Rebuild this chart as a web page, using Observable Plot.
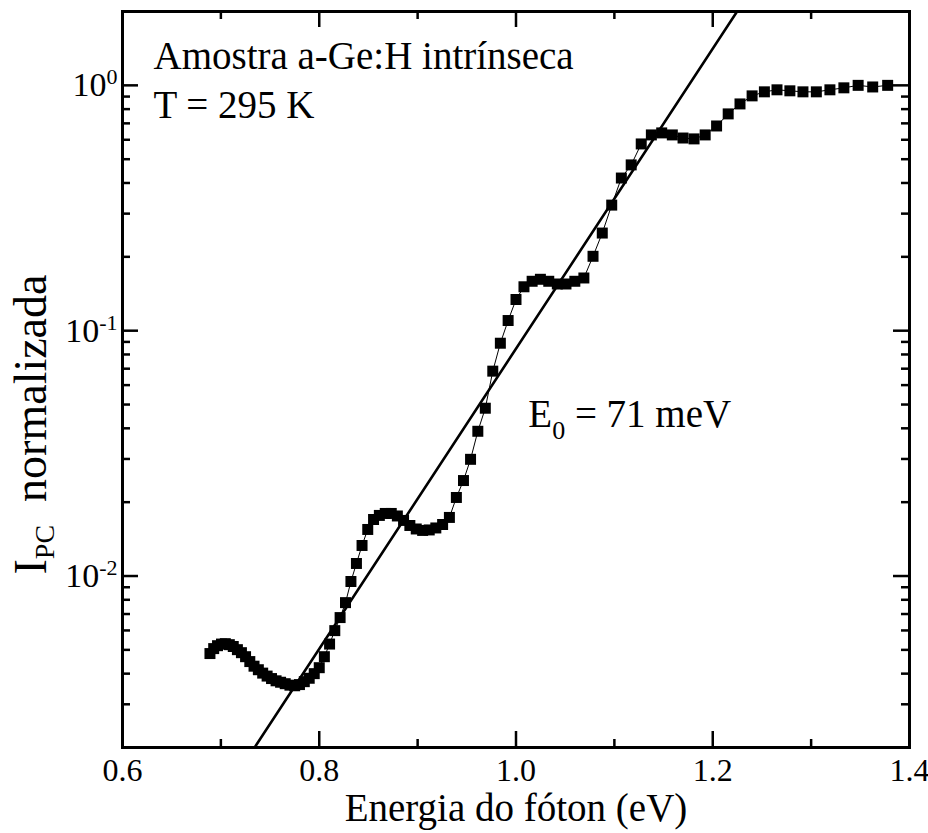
<!DOCTYPE html>
<html>
<head>
<meta charset="utf-8">
<script src="https://cdn.jsdelivr.net/npm/d3@7"></script>
<script src="https://cdn.jsdelivr.net/npm/@observablehq/plot@0.6"></script>
<style>
  body { margin: 0; background: #fff; }
</style>
</head>
<body>
<div id="chart"></div>
<script>
// Photon energy of each measured point (eV)
const energy = [0.6889, 0.6927, 0.6966, 0.7006, 0.7045, 0.7086, 0.7126, 0.7168, 0.7209, 0.7251,
  0.7294, 0.7337, 0.7381, 0.7425, 0.7470, 0.7515, 0.7561, 0.7607, 0.7654, 0.7702,
  0.7750, 0.7799, 0.7848, 0.7898, 0.7949, 0.8000, 0.8052, 0.8105, 0.8158, 0.8212,
  0.8267, 0.8322, 0.8378, 0.8435, 0.8493, 0.8552, 0.8611, 0.8671, 0.8732, 0.8794,
  0.8857, 0.8921, 0.8986, 0.9051, 0.9118, 0.9185, 0.9254, 0.9323, 0.9394, 0.9466,
  0.9538, 0.9612, 0.9688, 0.9764, 0.9841, 0.9920, 1.0000, 1.0081, 1.0164, 1.0248,
  1.0333, 1.0420, 1.0508, 1.0598, 1.0690, 1.0783, 1.0877, 1.0973, 1.1071, 1.1171,
  1.1273, 1.1376, 1.1481, 1.1589, 1.1698, 1.1810, 1.1923, 1.2039, 1.2157, 1.2277,
  1.2400, 1.2525, 1.2653, 1.2784, 1.2917, 1.3053, 1.3191, 1.3333, 1.3478, 1.3626, 1.3778];

// Normalized photocurrent at each energy
const ipc = [0.00483, 0.00506, 0.00520, 0.00528, 0.00530, 0.00525, 0.00516, 0.00501, 0.00487, 0.00469,
  0.00448, 0.00429, 0.00415, 0.00402, 0.00391, 0.00382, 0.00374, 0.00369, 0.00364, 0.00359,
  0.00357, 0.00361, 0.00371, 0.00383, 0.00400, 0.00423, 0.00469, 0.00528, 0.00599, 0.00677,
  0.00779, 0.00950, 0.01125, 0.01332, 0.01548, 0.01700, 0.01766, 0.01799, 0.01799, 0.01757,
  0.01685, 0.01607, 0.01555, 0.01534, 0.01541, 0.01570, 0.01622, 0.01733, 0.0209, 0.0245,
  0.0299, 0.0389, 0.0483, 0.0684, 0.0889, 0.110, 0.134, 0.151, 0.159, 0.162,
  0.159, 0.155, 0.155, 0.159, 0.164, 0.201, 0.250, 0.325, 0.419, 0.474,
  0.577, 0.628, 0.640, 0.628, 0.610, 0.605, 0.628, 0.683, 0.765, 0.840,
  0.906, 0.941, 0.959, 0.950, 0.941, 0.941, 0.959, 0.977, 1.00, 0.985, 1.00];

// Exponential (Urbach) edge fit: I = I1 * exp((E - 1 eV) / E0)
const urbachE0 = 0.071;          // eV
const fitAtOneEV = 0.0844;       // fitted photocurrent at E = 1 eV
const fitSpan = [0.6, 1.4];      // energies the fit line is drawn across

// Axis ticks
const xMajor = [0.6, 0.8, 1.0, 1.2, 1.4];
const xMinor = [0.7, 0.9, 1.1, 1.3];
const yMajor = [1, 0.1, 0.01];
const yExponent = ["0", "-1", "-2"];
const yMinor = [0.003, 0.004, 0.005, 0.006, 0.007, 0.008, 0.009,
  0.02, 0.03, 0.04, 0.05, 0.06, 0.07, 0.08, 0.09,
  0.2, 0.3, 0.4, 0.5, 0.6, 0.7, 0.8, 0.9];

// Labels
const sampleLabel = "Amostra a-Ge:H intrínseca";
const tempLabel = "T = 295 K";
const fitLabel = ["E", "0", " = 71 meV"];
const yTitle = ["I", "PC", "\u00a0 normalizada"];
const xTitle = "Energia do fóton (eV)";

const W = 928, H = 833;
const margin = {top: 11, right: 19, bottom: 86, left: 122};
const innerW = W - margin.left - margin.right;
const innerH = H - margin.top - margin.bottom;
const majorLen = 16, minorLen = 8, tickWidth = 2.5;
const font = "'Liberation Serif', 'Times New Roman', serif";

const points = energy.map((e, i) => ({energy: e, ipc: ipc[i]}));
const fit = fitSpan.map(e => ({energy: e, ipc: fitAtOneEV * Math.exp((e - 1) / urbachE0)}));

// inward ticks on all four sides of the frame
function frameTicksX(values, len) {
  return [
    Plot.tickX(values, {x: d => d, insetTop: innerH - len, stroke: "black", strokeWidth: tickWidth}),
    Plot.tickX(values, {x: d => d, insetBottom: innerH - len, stroke: "black", strokeWidth: tickWidth})
  ];
}
function frameTicksY(values, len) {
  return [
    Plot.tickY(values, {y: d => d, insetRight: innerW - len, stroke: "black", strokeWidth: tickWidth}),
    Plot.tickY(values, {y: d => d, insetLeft: innerW - len, stroke: "black", strokeWidth: tickWidth})
  ];
}

const chart = Plot.plot({
  width: W,
  height: H,
  marginTop: margin.top,
  marginRight: margin.right,
  marginBottom: margin.bottom,
  marginLeft: margin.left,
  style: {fontFamily: font, fontSize: "32px", background: "white", color: "black", overflow: "visible"},
  x: {domain: [0.6, 1.4]},
  y: {type: "log", domain: [0.002, 2]},
  marks: [
    Plot.line(points, {x: "energy", y: "ipc", stroke: "black", strokeWidth: 1}),
    Plot.dot(points, {x: "energy", y: "ipc", symbol: "square", r: 6.2, fill: "black", stroke: "none"}),
    Plot.line(fit, {x: "energy", y: "ipc", stroke: "black", strokeWidth: 2.6, clip: true}),
    ...frameTicksX(xMajor, majorLen),
    ...frameTicksX(xMinor, minorLen),
    ...frameTicksY(yMajor, majorLen),
    ...frameTicksY(yMinor, minorLen),
    Plot.frame({stroke: "black", strokeWidth: 3}),
    Plot.axisX({ticks: xMajor, tickSize: 0, tickPadding: 11, tickFormat: d => d.toFixed(1),
      fontSize: 32, label: null}),
    Plot.axisY({ticks: yMajor, tickSize: 0, tickPadding: 5, tickFormat: () => "10",
      fontSize: 34, label: null}),
    Plot.text([sampleLabel], {frameAnchor: "top-left", text: d => d, dx: 31, dy: 57,
      textAnchor: "start", lineAnchor: "bottom", fontSize: 39}),
    Plot.text([tempLabel], {frameAnchor: "top-left", text: d => d, dx: 31, dy: 106,
      textAnchor: "start", lineAnchor: "bottom", fontSize: 39}),
    Plot.text([fitLabel.join("")], {x: 1.0125, y: 0.0405, text: d => d,
      textAnchor: "start", lineAnchor: "bottom", fontSize: 39}),
    Plot.text([xTitle], {frameAnchor: "bottom", text: d => d, dy: 73,
      textAnchor: "middle", lineAnchor: "bottom", fontSize: 39}),
    Plot.text([yTitle.join("")], {frameAnchor: "left", text: d => d, rotate: -90, dx: -77, dy: 45,
      textAnchor: "middle", lineAnchor: "bottom", fontSize: 46})
  ]
});

document.getElementById("chart").appendChild(chart);

// rebuild a text node from pieces, each optionally shifted and resized (sub/superscripts)
function richText(node, parts) {
  const sel = d3.select(node);
  sel.text(null);
  let shift = 0;
  for (const p of parts) {
    const ts = sel.append("tspan").text(p.t);
    if (p.size) ts.attr("font-size", p.size);
    const s = p.shift || 0;
    if (s !== shift) ts.attr("dy", s - shift);
    shift = s;
  }
}
function textsWith(content) {
  return d3.select(chart).selectAll("text").filter(function() { return this.textContent === content; });
}

d3.select(chart).selectAll('g[aria-label="y-axis tick label"] text').each(function(d, i) {
  richText(this, [{t: "10"}, {t: yExponent[i], shift: -12, size: 22}]);
});
textsWith(fitLabel.join("")).each(function() {
  richText(this, [{t: fitLabel[0]}, {t: fitLabel[1], shift: 12, size: 26}, {t: fitLabel[2], shift: 0}]);
});
textsWith(yTitle.join("")).each(function() {
  richText(this, [{t: yTitle[0]}, {t: yTitle[1], shift: 8, size: 28}, {t: yTitle[2], shift: 0}]);
});
</script>
</body>
</html>
